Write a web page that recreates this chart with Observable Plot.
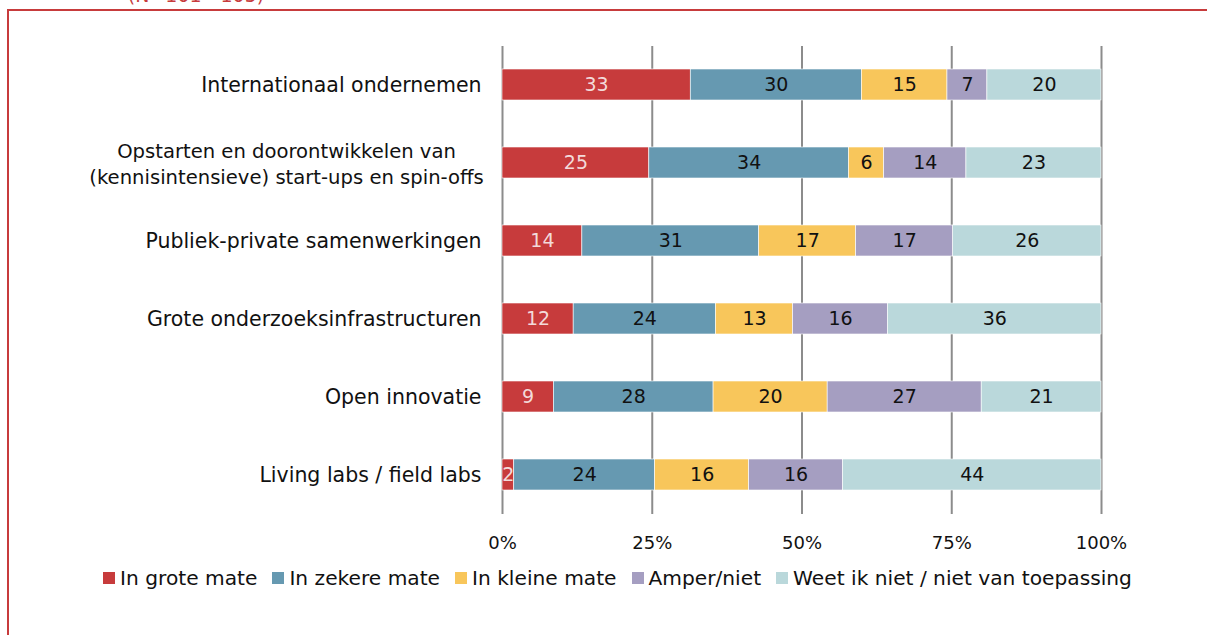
<!DOCTYPE html>
<html>
<head>
<meta charset="utf-8">
<script src="https://cdn.jsdelivr.net/npm/d3@7"></script>
<script src="https://cdn.jsdelivr.net/npm/@observablehq/plot@0.6"></script>
<style>
  html, body { margin: 0; padding: 0; background: #fff; }
  body { width: 1207px; height: 635px; position: relative; overflow: hidden; font-family: "DejaVu Sans", sans-serif; }
  #frameTop { position: absolute; left: 7px; top: 9px; width: 1200px; height: 2px; background: #C73B3C; }
  #frameLeft { position: absolute; left: 7px; top: 9px; width: 2px; height: 626px; background: #C73B3C; }
  #note { position: absolute; left: 96px; width: 200px; top: -16px; text-align: center; font-size: 19px; color: #C73B3C; white-space: nowrap; }
  #chart { position: absolute; left: 0; top: 0; }
  #legend { position: absolute; left: 0; width: 1207px; top: 566px; display: flex; justify-content: center; padding-left: 28px; box-sizing: border-box; font-size: 20.2px; color: #111; line-height: 24px; }
  .item { display: flex; align-items: center; margin-right: 15px; white-space: nowrap; }
  .item:last-child { margin-right: 0; }
  .sw { width: 12px; height: 12px; margin-right: 5px; }
</style>
</head>
<body>
<div id="note">(N=101 - 105)</div>
<div id="chart"></div>
<div id="legend"></div>
<div id="frameTop"></div>
<div id="frameLeft"></div>
<script>
const categories = [
  "Internationaal ondernemen",
  "Opstarten en doorontwikkelen van\n(kennisintensieve) start-ups en spin-offs",
  "Publiek-private samenwerkingen",
  "Grote onderzoeksinfrastructuren",
  "Open innovatie",
  "Living labs / field labs"
];
const series = ["In grote mate", "In zekere mate", "In kleine mate", "Amper/niet", "Weet ik niet / niet van toepassing"];
const groteMate = [33, 25, 14, 12, 9, 2];
const zekereMate = [30, 34, 31, 24, 28, 24];
const kleineMate = [15, 6, 17, 13, 20, 16];
const amperNiet = [7, 14, 17, 16, 27, 16];
const weetNiet = [20, 23, 26, 36, 21, 44];
const colors = ["#C73B3C", "#6699B1", "#F8C65B", "#A59EC1", "#BAD8DB"];
const xTicks = [0, 0.25, 0.5, 0.75, 1];
const xTickLabels = ["0%", "25%", "50%", "75%", "100%"];

const seriesValues = [groteMate, zekereMate, kleineMate, amperNiet, weetNiet];
const rows = [];
categories.forEach((c, i) => {
  series.forEach((s, j) => rows.push({category: c, series: s, value: seriesValues[j][i]}));
});

const multiLine = categories.filter(c => c.includes("\n"));
const stackOpts = {x: "value", y: "category", z: "series", offset: "normalize", order: series};

const plot = Plot.plot({
  width: 1207,
  height: 560,
  marginLeft: 502,
  marginRight: 106,
  marginTop: 46,
  marginBottom: 46,
  style: {fontFamily: "'DejaVu Sans', sans-serif", fontSize: "20px", color: "#111", background: "transparent"},
  x: {domain: [0, 1], axis: null},
  y: {domain: categories, paddingInner: 0.6, paddingOuter: 0.3, axis: null},
  color: {domain: series, range: colors},
  marks: [
    Plot.ruleX(xTicks, {x: d => d, stroke: "#8c8c8c", strokeWidth: 2}),
    Plot.barX(rows, Plot.stackX({...stackOpts, fill: "series", stroke: "white", strokeWidth: 0.6})),
    Plot.text(rows, Plot.stackX({...stackOpts, text: d => d.value, fill: d => d.series === series[0] ? "#F3DADA" : "#111", fontSize: 19})),
    Plot.axisX(xTicks, {tickSize: 0, tickPadding: 22, label: null, tickFormat: d => xTickLabels[xTicks.indexOf(d)], fontSize: 18}),
    Plot.axisY(categories.filter(c => !c.includes("\n")), {tickSize: 0, tickPadding: 21, label: null, fontSize: 20.5}),
    Plot.text(multiLine, {y: d => d, frameAnchor: "left", dx: -216, textAnchor: "middle", lineHeight: 1.32, fontSize: 19.6, fill: "#111"})
  ]
});
document.getElementById("chart").appendChild(plot);

const legend = document.getElementById("legend");
series.forEach((s, i) => {
  const item = document.createElement("div");
  item.className = "item";
  const sw = document.createElement("div");
  sw.className = "sw";
  sw.style.background = colors[i];
  const t = document.createElement("span");
  t.textContent = s;
  item.appendChild(sw);
  item.appendChild(t);
  legend.appendChild(item);
});
</script>
</body>
</html>
